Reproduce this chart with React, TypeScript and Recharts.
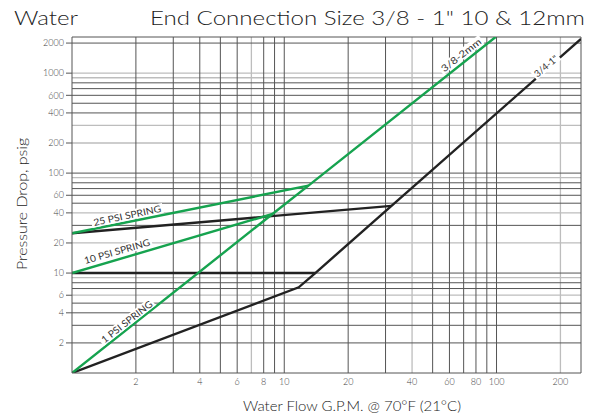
import React from 'react';
import { LineChart, Line, XAxis, YAxis, ReferenceLine, ReferenceDot } from 'recharts';

// axis ticks
const xTicks = [2, 4, 6, 8, 10, 20, 40, 60, 80, 100, 200];
const yTicks = [2, 4, 6, 8, 10, 20, 40, 60, 80, 100, 200, 400, 600, 800, 1000, 2000];

// log grid (dark and light lines)
const xGridDark = [2, 3, 4, 5, 6, 8, 9, 10, 20, 30, 50, 60, 70, 80, 90, 100];
const xGridLight = [7, 40, 200];
const yGridDark = [2, 3, 4, 5, 7, 8, 10, 30, 50, 60, 70, 80, 100, 400, 500, 600, 700, 800, 2000];
const yGridLight = [6, 9, 20, 40, 90, 200, 300, 900, 1000];

// green curves: 1 PSI spring / 3/8-2mm, 10 PSI, 25 PSI
const green1 = [
  { x: 1, y: 1 },
  { x: 8.8, y: 39 },
  { x: 13, y: 75 },
  { x: 99, y: 2300 },
];
const green10 = [
  { x: 1, y: 10 },
  { x: 8.8, y: 39 },
];
const green25 = [
  { x: 1, y: 25 },
  { x: 13, y: 75 },
];

// black curves: 3/4-1", 10 PSI, 25 PSI
const black1 = [
  { x: 1, y: 1 },
  { x: 11.7, y: 7.2 },
  { x: 14, y: 10 },
  { x: 32, y: 47 },
  { x: 250, y: 2200 },
];
const black10 = [
  { x: 1, y: 10 },
  { x: 14, y: 10 },
];
const black25 = [
  { x: 1, y: 25 },
  { x: 32, y: 47 },
];

// curve labels (anchor in data units)
const curveLabels = [
  { text: '3/8-2mm', x: 68, y: 1520, angle: -38, len: 48 },
  { text: '3/4-1"', x: 171, y: 1180, angle: -40, len: 28 },
  { text: '25 PSI SPRING', x: 1.82, y: 37.7, angle: -12, len: 69 },
  { text: '10 PSI SPRING', x: 1.63, y: 16.5, angle: -16, len: 68 },
  { text: '1 PSI SPRING', x: 1.81, y: 3.26, angle: -38, len: 62 },
];

const GREEN = '#16a34f';
const BLACK = '#222';
const DARK = '#555';
const LIGHT = '#bdbdbd';
const FONT = 'Lato, "DejaVu Sans", sans-serif';

const LineLabel = ({ cx, cy, text, angle, len }: any) => (
  <g transform={`translate(${cx},${cy}) rotate(${angle})`}>
    <rect x={-len / 2 - 2} y={-5} width={len + 4} height={10} fill="#fff" />
    <text
      x={0}
      y={3.5}
      textAnchor="middle"
      fontSize={9.5}
      fontFamily={FONT}
      fill="#333"
      textLength={len}
      lengthAdjust="spacingAndGlyphs"
    >
      {text}
    </text>
  </g>
);

export default function App() {
  const tickStyle = { fill: '#444', fontSize: 9, fontFamily: FONT, fontWeight: 300 };
  return (
    <div style={{ position: 'absolute', left: 0, top: 0, width: 599, height: 418, background: '#fff' }}>
      <LineChart width={599} height={418} margin={{ top: 37, right: 18, left: 0, bottom: 0 }}>
        <XAxis
          type="number"
          dataKey="x"
          scale="log"
          domain={[1, 250]}
          ticks={xTicks}
          allowDataOverflow
          height={45}
          tickLine={false}
          tickSize={0}
          tickMargin={6}
          stroke={DARK}
          tick={tickStyle}
        />
        <YAxis
          type="number"
          dataKey="y"
          scale="log"
          domain={[1, 2300]}
          ticks={yTicks}
          allowDataOverflow
          width={72}
          tickSize={6}
          tickMargin={2}
          stroke={DARK}
          tick={tickStyle}
        />
        {yGridLight.map(v => (
          <ReferenceLine key={'yl' + v} y={v} stroke={LIGHT} strokeWidth={1.3} />
        ))}
        {xGridLight.map(v => (
          <ReferenceLine key={'xl' + v} x={v} stroke={LIGHT} strokeWidth={1.3} />
        ))}
        {yGridDark.map(v => (
          <ReferenceLine key={'yd' + v} y={v} stroke={DARK} strokeWidth={1} />
        ))}
        {xGridDark.map(v => (
          <ReferenceLine key={'xd' + v} x={v} stroke={DARK} strokeWidth={1} />
        ))}
        <ReferenceLine y={2300} stroke={DARK} strokeWidth={1} />
        <ReferenceLine x={250} stroke={DARK} strokeWidth={1} />
        {curveLabels.map(l => (
          <ReferenceDot
            key={l.text}
            x={l.x}
            y={l.y}
            r={1}
            shape={(p: any) => <LineLabel cx={p.cx} cy={p.cy} text={l.text} angle={l.angle} len={l.len} />}
          />
        ))}
        <Line data={black10} dataKey="y" stroke={BLACK} strokeWidth={2.4} dot={false} isAnimationActive={false} />
        <Line data={black25} dataKey="y" stroke={BLACK} strokeWidth={2.4} dot={false} isAnimationActive={false} />
        <Line data={black1} dataKey="y" stroke={BLACK} strokeWidth={2.4} dot={false} isAnimationActive={false} />
        <Line data={green10} dataKey="y" stroke={GREEN} strokeWidth={2.4} dot={false} isAnimationActive={false} />
        <Line data={green25} dataKey="y" stroke={GREEN} strokeWidth={2.4} dot={false} isAnimationActive={false} />
        <Line data={green1} dataKey="y" stroke={GREEN} strokeWidth={2.4} dot={false} isAnimationActive={false} />
      </LineChart>
      <svg width={599} height={418} style={{ position: 'absolute', left: 0, top: 0, pointerEvents: 'none' }}>
        <text x={14} y={25} fontSize={19} fontFamily={FONT} fontWeight={300} fill="#222" textLength={64} lengthAdjust="spacingAndGlyphs">
          Water
        </text>
        <text x={150} y={25} fontSize={19} fontFamily={FONT} fontWeight={300} fill="#222" textLength={435} lengthAdjust="spacingAndGlyphs">
          End Connection Size 3/8 - 1" 10 &amp; 12mm
        </text>
        <text
          transform="translate(27,204) rotate(-90)"
          textAnchor="middle"
          fontSize={14}
          fontFamily={FONT}
          fontWeight={300}
          fill="#222"
          textLength={132}
          lengthAdjust="spacingAndGlyphs"
        >
          Pressure Drop, psig
        </text>
        <text
          x={352}
          y={411}
          textAnchor="middle"
          fontSize={14}
          fontFamily={FONT}
          fontWeight={300}
          fill="#222"
          textLength={218}
          lengthAdjust="spacingAndGlyphs"
        >
          Water Flow G.P.M. @ 70°F (21°C)
        </text>
      </svg>
    </div>
  );
}
